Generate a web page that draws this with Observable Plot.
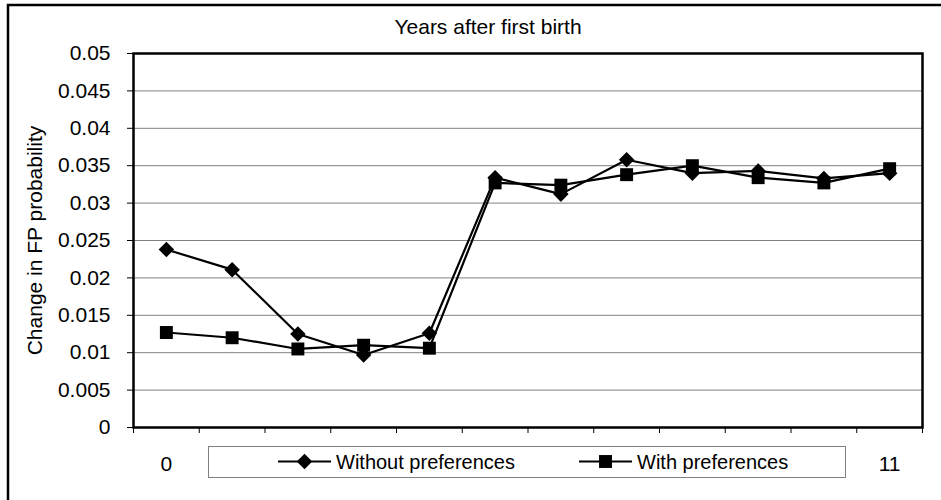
<!DOCTYPE html>
<html>
<head>
<meta charset="utf-8">
<script src="https://cdn.jsdelivr.net/npm/d3@7"></script>
<script src="https://cdn.jsdelivr.net/npm/@observablehq/plot@0.6"></script>
<style>
  html, body { margin: 0; padding: 0; background: #fff; overflow: hidden; }
  svg { display: block; }
</style>
</head>
<body>
<div id="chart"></div>
<script>
const years = [0, 1, 2, 3, 4, 5, 6, 7, 8, 9, 10, 11];
const withoutPreferences = [0.0238, 0.0211, 0.0125, 0.0097, 0.0126, 0.0334, 0.0312, 0.0358, 0.0340, 0.0343, 0.0333, 0.0340];
const withPreferences = [0.0127, 0.0120, 0.0105, 0.0110, 0.0106, 0.0327, 0.0324, 0.0338, 0.0350, 0.0334, 0.0327, 0.0346];
const yTicks = [0, 0.005, 0.01, 0.015, 0.02, 0.025, 0.03, 0.035, 0.04, 0.045, 0.05];
const yTickLabels = ["0", "0.005", "0.01", "0.015", "0.02", "0.025", "0.03", "0.035", "0.04", "0.045", "0.05"];
const xLabelYears = [0, 11];
const xLabels = ["0", "11"];
const seriesNames = ["Without preferences", "With preferences"];
const title = "Years after first birth";
const yLabel = "Change in FP probability";

const font = "'Liberation Sans', Arial, Helvetica, sans-serif";
const boundaries = d3.range(years.length + 1).map(i => i - 0.5);
const rowsA = years.map((yr, i) => ({year: yr, value: withoutPreferences[i]}));
const rowsB = years.map((yr, i) => ({year: yr, value: withPreferences[i]}));

const chart = Plot.plot({
  width: 941,
  height: 500,
  marginLeft: 133,
  marginRight: 19,
  marginTop: 53,
  marginBottom: 73,
  style: {fontFamily: font, fontSize: "21px", color: "#000", background: "#fff", overflow: "hidden"},
  x: {type: "linear", domain: [-0.5, 11.5], ticks: boundaries, tickFormat: () => "", tickSize: 6, label: null},
  y: {domain: [0, 0.05], ticks: yTicks, tickFormat: (d) => yTickLabels[yTicks.indexOf(d)], tickSize: 6, tickPadding: 17, label: null},
  marks: [
    Plot.ruleY(yTicks, {stroke: "#808080", strokeWidth: 1}),
    Plot.line(rowsA, {x: "year", y: "value", stroke: "#000", strokeWidth: 2.2}),
    Plot.line(rowsB, {x: "year", y: "value", stroke: "#000", strokeWidth: 2.2}),
    Plot.dot(rowsA, {x: "year", y: "value", symbol: "diamond2", r: 7, fill: "#000", stroke: "none"}),
    Plot.dot(rowsB, {x: "year", y: "value", symbol: "square", r: 7.3, fill: "#000", stroke: "none"}),
    Plot.frame({stroke: "#000", strokeWidth: 2.5}),
    Plot.text(xLabelYears.map((yr, i) => ({year: yr, label: xLabels[i]})), {x: "year", text: "label", frameAnchor: "bottom", lineAnchor: "middle", dy: 37, fontSize: 21}),
    Plot.text([title], {frameAnchor: "top", lineAnchor: "middle", dx: -40, dy: -26, fontSize: 21}),
    Plot.text([yLabel], {frameAnchor: "left", textAnchor: "middle", rotate: -90, dx: -98, fontSize: 21})
  ]
});

document.getElementById("chart").appendChild(chart);

// outer chart border (left and top edges visible) and legend
const svg = d3.select(chart);
svg.insert("path", ":first-child")
  .attr("d", "M8,520V5H960")
  .attr("fill", "none").attr("stroke", "#000").attr("stroke-width", 2.5);

const lg = svg.append("g").attr("font-family", font).attr("font-size", 20).attr("text-anchor", "start");
lg.append("rect").attr("x", 208.5).attr("y", 446.5).attr("width", 637).attr("height", 31)
  .attr("fill", "#fff").attr("stroke", "#808080").attr("stroke-width", 1);
const items = [
  {x0: 278, symbol: d3.symbolDiamond2, size: 154, name: seriesNames[0]},
  {x0: 579, symbol: d3.symbolSquare, size: 167, name: seriesNames[1]}
];
items.forEach(it => {
  const cy = 461.5;
  lg.append("line").attr("x1", it.x0).attr("x2", it.x0 + 53).attr("y1", cy).attr("y2", cy)
    .attr("stroke", "#000").attr("stroke-width", 2);
  lg.append("path").attr("d", d3.symbol(it.symbol, it.size)())
    .attr("transform", `translate(${it.x0 + 26.5},${cy})`).attr("fill", "#000");
  lg.append("text").attr("x", it.x0 + 58).attr("y", cy).attr("dy", "0.35em").attr("text-anchor", "start").text(it.name);
});
</script>
</body>
</html>
